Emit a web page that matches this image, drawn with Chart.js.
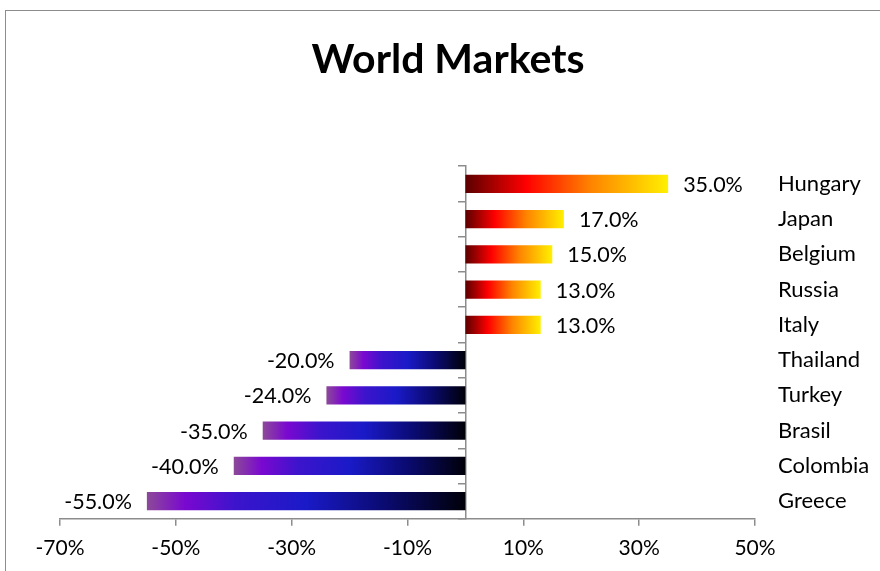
<!DOCTYPE html>
<html>
<head>
<meta charset="utf-8">
<title>World Markets</title>
<script src="https://cdn.jsdelivr.net/npm/chart.js@4/dist/chart.umd.min.js"></script>
<style>
  html, body { margin: 0; padding: 0; background: #fff; overflow: hidden; }
  .frame { position: absolute; left: 5px; top: 10px; width: 1000px; height: 1000px; border: 1.5px solid #8c8c8c; }
  #chart { position: absolute; left: 0; top: 0; }
</style>
</head>
<body>
<div class="frame"></div>
<canvas id="chart" width="880" height="571"></canvas>
<script>
const countries = ["Hungary", "Japan", "Belgium", "Russia", "Italy", "Thailand", "Turkey", "Brasil", "Colombia", "Greece"];
const returns = [35, 17, 15, 13, 13, -20, -24, -35, -40, -55];
const axisMin = -70;
const axisMax = 50;
const axisStep = 20;

const FONT = "Lato, 'Open Sans', sans-serif";

// gradient runs from the zero line out to the end of each bar
function barFill(ctx) {
  const chart = ctx.chart;
  const xs = chart.scales.x;
  if (!xs || ctx.raw === undefined) return "#888";
  const x0 = xs.getPixelForValue(0);
  const x1 = xs.getPixelForValue(ctx.raw);
  if (!isFinite(x0) || !isFinite(x1) || x0 === x1) return ctx.raw >= 0 ? "#ff4000" : "#1a1ac8";
  const g = chart.ctx.createLinearGradient(x0, 0, x1, 0);
  if (ctx.raw >= 0) {
    g.addColorStop(0, "#5c0000");
    g.addColorStop(0.3, "#ff0000");
    g.addColorStop(0.62, "#ff8400");
    g.addColorStop(1, "#fff000");
  } else {
    g.addColorStop(0, "#000008");
    g.addColorStop(0.25, "#0a0a70");
    g.addColorStop(0.5, "#1a1ac8");
    g.addColorStop(0.72, "#3c14cc");
    g.addColorStop(0.88, "#7a08d0");
    g.addColorStop(1, "#8c4a98");
  }
  return g;
}

const valueLabels = {
  id: "valueLabels",
  afterDatasetsDraw(chart) {
    const c = chart.ctx;
    const meta = chart.getDatasetMeta(0);
    c.save();
    c.font = "21.5px " + FONT;
    c.fillStyle = "#000";
    c.textBaseline = "middle";
    meta.data.forEach((bar, i) => {
      const v = returns[i];
      const txt = v.toFixed(1) + "%";
      if (v >= 0) {
        c.textAlign = "left";
        c.fillText(txt, bar.x + 15, bar.y + 1);
      } else {
        c.textAlign = "right";
        c.fillText(txt, bar.x - 15, bar.y + 1);
      }
    });
    c.restore();
  }
};

new Chart(document.getElementById("chart"), {
  type: "bar",
  data: {
    labels: countries,
    datasets: [{
      data: returns,
      backgroundColor: barFill,
      borderWidth: 0,
      barPercentage: 0.52,
      categoryPercentage: 1.0,
      yAxisID: "y"
    }]
  },
  options: {
    indexAxis: "y",
    responsive: false,
    animation: false,
    layout: { padding: { left: 21, right: 5, top: 28, bottom: 0 } },
    plugins: {
      legend: { display: false },
      tooltip: { enabled: false },
      title: {
        display: true,
        text: "World Markets",
        color: "#000",
        font: { family: FONT, size: 41, weight: "bold" },
        padding: { top: 7, bottom: 82 }
      }
    },
    scales: {
      x: {
        min: axisMin,
        max: axisMax,
        ticks: {
          stepSize: axisStep,
          color: "#000",
          font: { family: FONT, size: 21 },
          padding: 10,
          callback: v => v + "%"
        },
        grid: { drawOnChartArea: false, tickLength: 7, color: "#8c8c8c", lineWidth: 1.5 },
        border: { color: "#8c8c8c", width: 1.5 },
        afterFit: scale => { scale.paddingLeft = 60; }
      },
      y: {
        position: "right",
        ticks: { color: "#000", font: { family: FONT, size: 22 }, padding: 23 },
        grid: { display: false, drawTicks: false },
        border: { display: false },
        afterFit: scale => { scale.width = 120; }
      },
      y2: {
        type: "category",
        position: { x: 0 },
        offset: true,
        ticks: { display: false },
        grid: { offset: true, drawOnChartArea: false, tickLength: 7, color: "#8c8c8c", lineWidth: 1.5 },
        border: { color: "#8c8c8c", width: 1.5 }
      }
    }
  },
  plugins: [valueLabels]
});
</script>
</body>
</html>
